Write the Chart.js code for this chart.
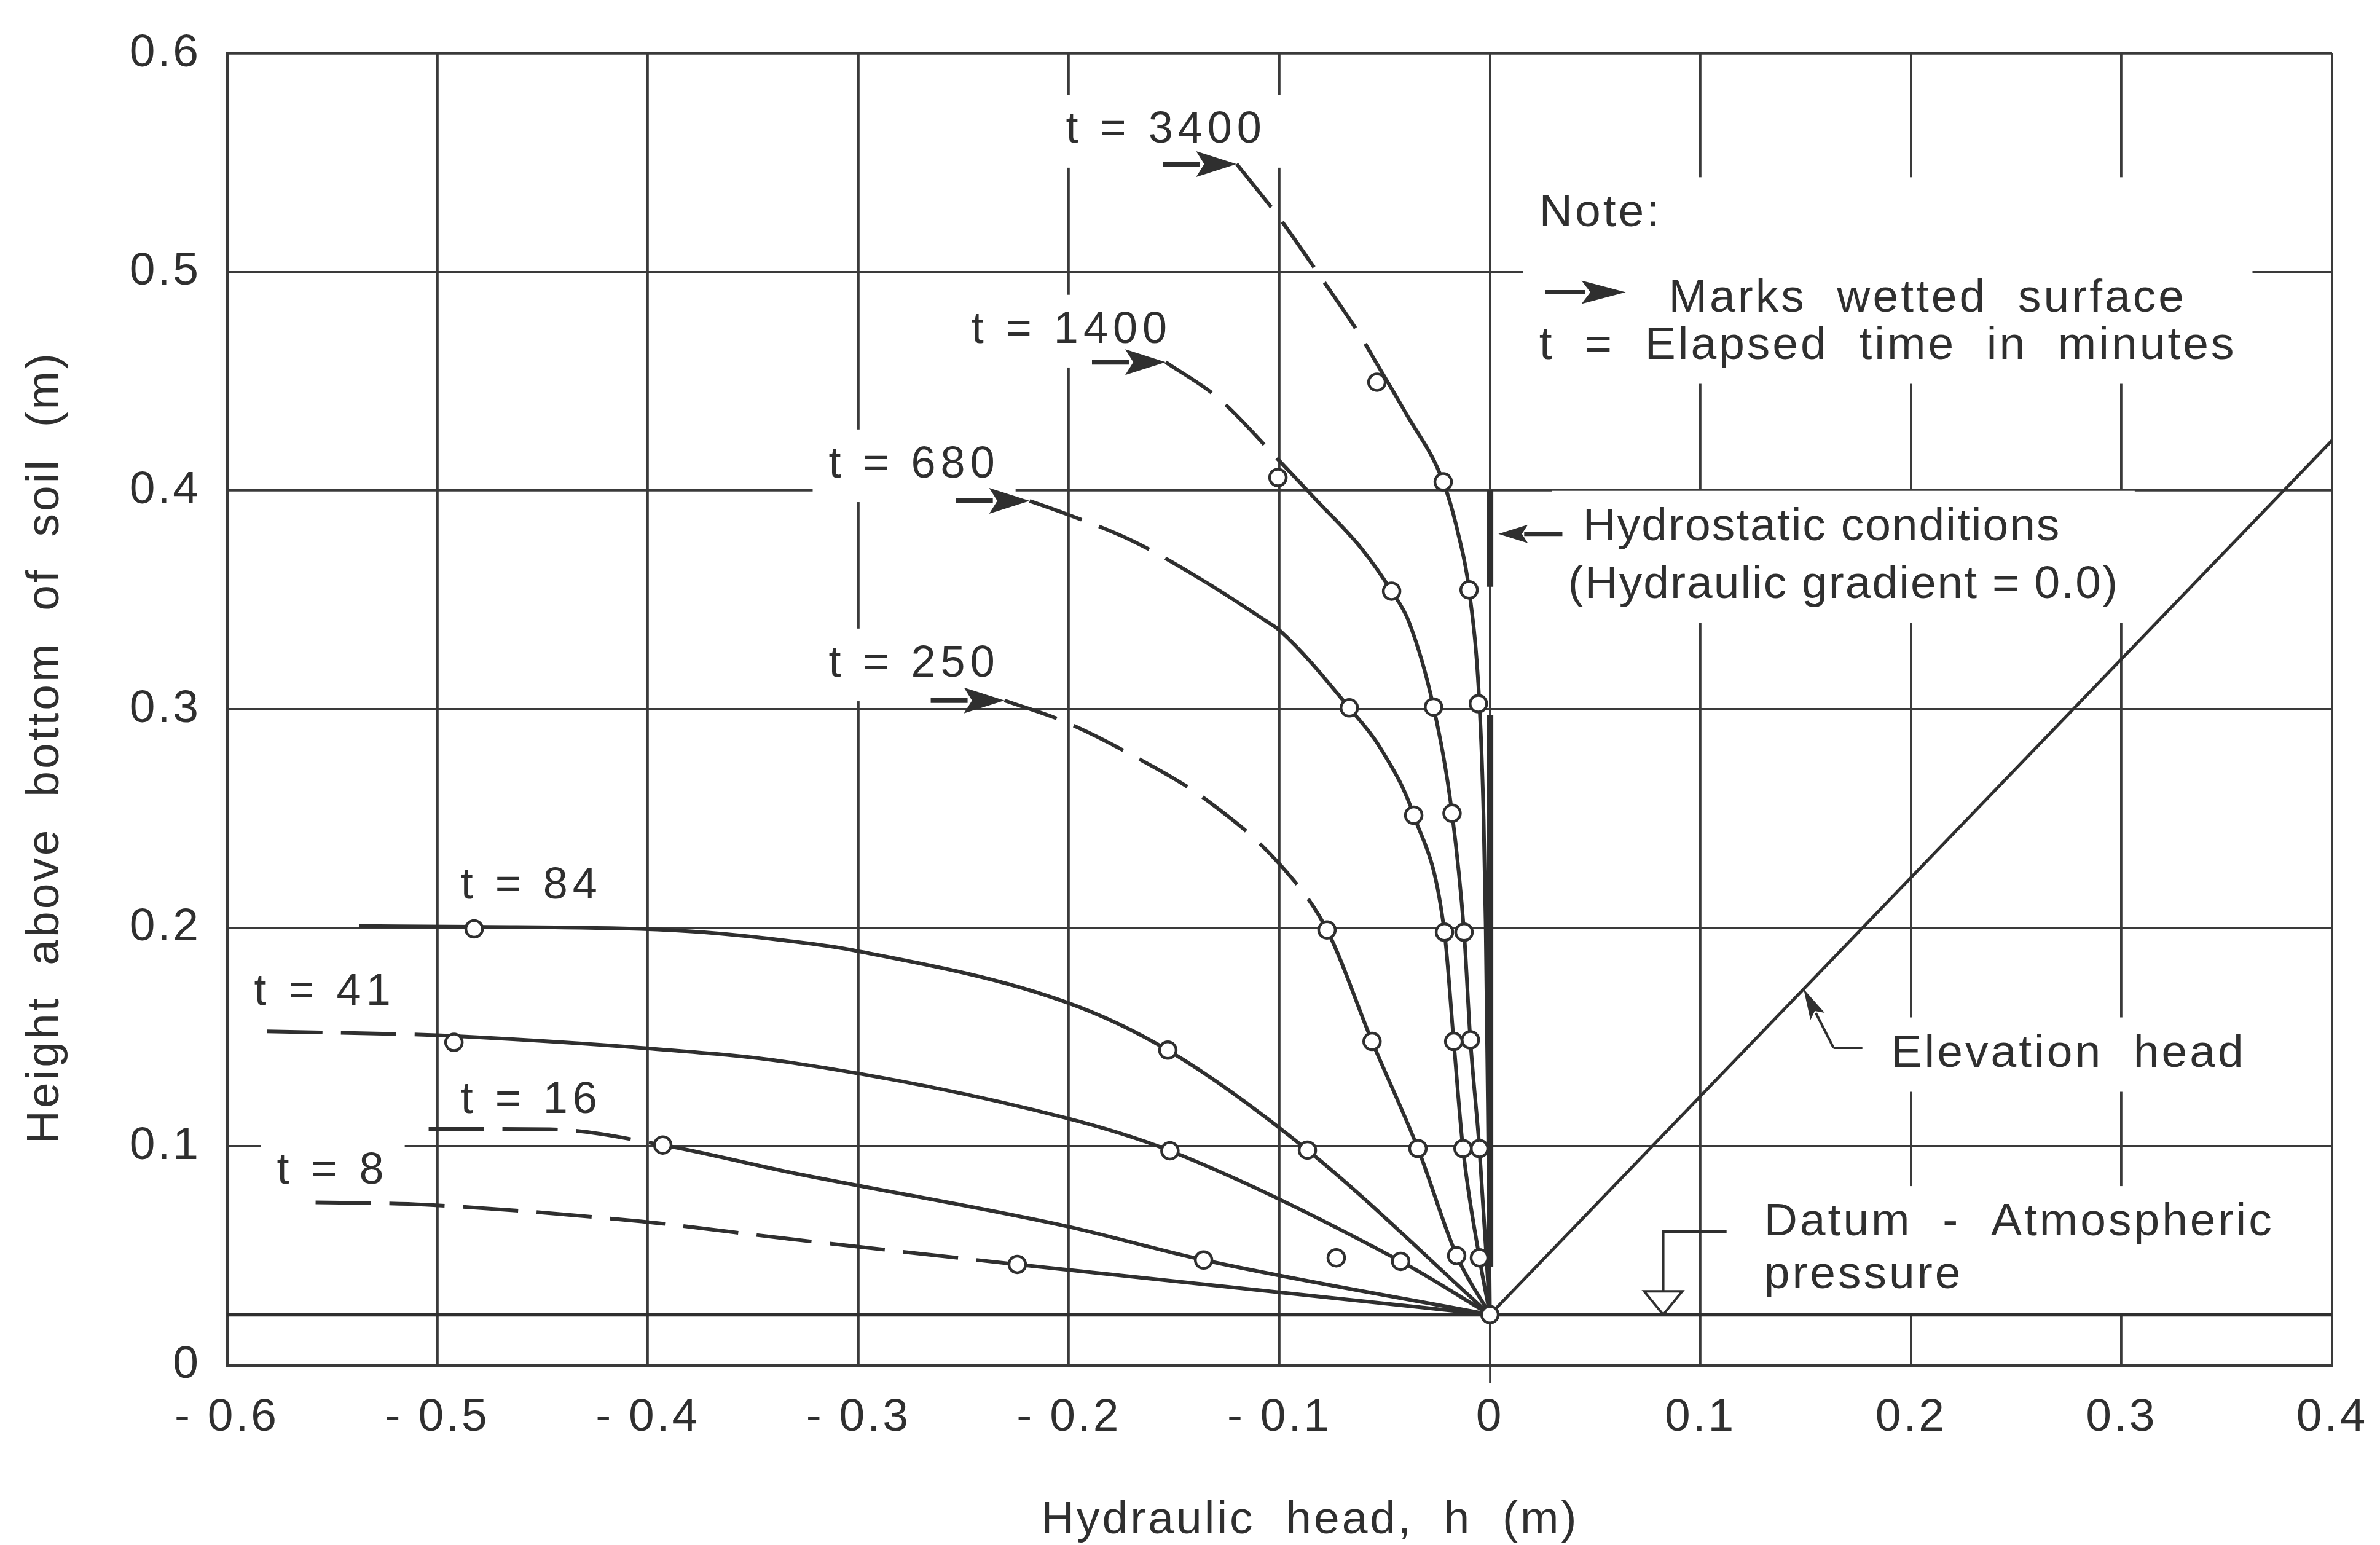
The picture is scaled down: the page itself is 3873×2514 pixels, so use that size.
<!DOCTYPE html>
<html>
<head>
<meta charset="utf-8">
<script src="https://cdn.jsdelivr.net/npm/chart.js@4.4.1/dist/chart.umd.min.js"></script>
<style>
html,body{margin:0;padding:0;background:#fff;overflow:hidden}
canvas{display:block}
</style>
</head>
<body>
<canvas id="c" width="3873" height="2514" style="width:3873px;height:2514px"></canvas>
<script>
// ---------------- data (hydraulic head h in m, height z in m) ----------------
const xTickLabels = ['- 0.6','- 0.5','- 0.4','- 0.3','- 0.2','- 0.1','0','0.1','0.2','0.3','0.4'];
const yTickLabels = ['0','0.1','0.2','0.3','0.4','0.5','0.6'];

const datumZ = 0.023;

// t = 3400 min
const h3400 = [-0.1203,-0.101,-0.0806,-0.061,-0.0537,-0.040,-0.0222,-0.0150,-0.0099,-0.0050,-0.003,-0.002,-0.001,0];
const z3400 = [0.5494,0.526,0.498,0.470,0.458,0.4355,0.404,0.380,0.3546,0.3025,0.25,0.2,0.12,0.023];
const dash3400 = 4;
// t = 1400 min
const h1400 = [-0.154,-0.129,-0.0998,-0.0823,-0.061,-0.0467,-0.0385,-0.0268,-0.018,-0.0123,-0.0093,-0.005,0];
const z1400 = [0.4588,0.4423,0.4134,0.3955,0.3735,0.354,0.340,0.301,0.2524,0.198,0.1487,0.099,0.023];
const dash1400 = 2;
// t = 680 min
const h680 = [-0.2186,-0.2023,-0.1696,-0.1351,-0.1066,-0.0998,-0.0668,-0.0511,-0.0362,-0.0216,-0.0172,-0.0128,-0.005,0];
const z680 = [0.3953,0.3897,0.3769,0.3582,0.3405,0.3360,0.3006,0.2808,0.2515,0.198,0.148,0.099,0.049,0.023];
const dash680 = 3;
// t = 250 min
const h250 = [-0.2306,-0.2023,-0.1696,-0.1351,-0.0998,-0.0774,-0.056,-0.0342,-0.0158,0];
const z250 = [0.304,0.2944,0.2788,0.2588,0.229,0.199,0.148,0.099,0.050,0.023];
const dash250 = 5;
// t = 84 min
const h84 = [-0.537,-0.4825,-0.4037,-0.374,-0.3333,-0.3024,-0.2014,-0.153,-0.0867,0];
const z84 = [0.2008,0.2005,0.1995,0.198,0.194,0.1897,0.166,0.144,0.0983,0.023];
const dash84 = -1;
// t = 41 min
const h41 = [-0.5808,-0.5047,-0.4921,-0.4037,-0.3333,-0.2014,-0.152,-0.0424,0];
const z41 = [0.1526,0.151,0.1505,0.1451,0.1385,0.113,0.098,0.0474,0.023];
const dash41 = 2;
// t = 16 min
const h16 = [-0.5041,-0.4466,-0.3929,-0.3333,-0.2014,-0.136,0];
const z16 = [0.108,0.1078,0.1006,0.0883,0.0635,0.048,0.023];
const dash16 = 2;
// t = 8 min
const h8 = [-0.5578,-0.5058,-0.4037,-0.3333,-0.2245,0];
const z8 = [0.0744,0.0733,0.0657,0.0577,0.046,0.023];
const dash8 = 4;

// measured points (open circles)
const markH = [-0.0537,-0.0222,-0.0099,-0.0055,
               -0.1007,-0.0467,-0.0268,-0.018,-0.0123,-0.0093,-0.005,
               -0.0668,-0.0362,-0.0216,-0.0172,-0.0128,-0.005,
               -0.0774,-0.056,-0.0342,-0.0158,
               -0.4825,-0.153,-0.0867,
               -0.4921,-0.152,-0.0424,
               -0.3929,-0.136,
               -0.2245,
               -0.073,
               0];
const markZ = [0.4496,0.404,0.3546,0.3025,
               0.406,0.354,0.301,0.2524,0.198,0.1487,0.099,
               0.3006,0.2515,0.198,0.148,0.099,0.049,
               0.199,0.148,0.099,0.050,
               0.1995,0.144,0.0983,
               0.1476,0.098,0.0474,
               0.1006,0.048,
               0.046,
               0.049,
               0.023];

// reference lines
const elevH = [0, 0.4];
const elevZ = [0.023, 0.423];
const datumLineH = [-0.6, 0.4];
const hydroH = [0, 0, 0, 0, 0];
const hydroZ = [0.4, 0.356, null, 0.2975, 0.045];

// labels for the time curves (anchor in data units: left edge, baseline)
const timeLabels = ['t = 3400','t = 1400','t = 680','t = 250','t = 84','t = 41','t = 16','t = 8'];
const timeLabelH = [-0.2014,-0.2463,-0.3141,-0.3141,-0.4889,-0.5870,-0.4889,-0.5762];
const timeLabelZ = [0.5591,0.4677,0.4061,0.3150,0.2134,0.1649,0.1153,0.0830];

const noteText = ['Note:','Marks  wetted  surface','t  =  Elapsed  time  in  minutes'];
const noteH = [0.0234,0.0849,0.0234];
const noteZ = [0.5209,0.4819,0.4604];
const hydroText = ['Hydrostatic conditions','(Hydraulic gradient = 0.0)'];
const hydroTextH = [0.0441,0.0371];
const hydroTextZ = [0.3774,0.351];
const elevText = ['Elevation  head'];
const elevTextH = [0.1906];
const elevTextZ = [0.1365];
const datumText = ['Datum  -  Atmospheric','pressure'];
const datumTextH = [0.1302,0.1302];
const datumTextZ = [0.0593,0.0351];

// ---------------- drawing ----------------
const FONT = '"Liberation Sans", Arial, Helvetica, sans-serif';
const INK = '#2f2f2f';
const GRID = '#3a3a3a';

const curves = [
  [h3400,z3400,dash3400],[h1400,z1400,dash1400],[h680,z680,dash680],[h250,z250,dash250],
  [h84,z84,dash84],[h41,z41,dash41],[h16,z16,dash16],[h8,z8,dash8]
];
const pts = (h, z) => h.map((v, i) => ({x: v, y: z[i]}));

const datasets = [];
curves.forEach(([h, z, d]) => {
  datasets.push({
    data: pts(h, z),
    borderColor: INK, borderWidth: 6, cubicInterpolationMode: 'monotone', pointRadius: 0, fill: false, order: 2,
    borderCapStyle: 'butt',
    segment: { borderDash: ctx => (ctx.p1DataIndex <= d ? [90, 30] : undefined) }
  });
});
datasets.push({ data: pts(elevH, elevZ), borderColor: INK, borderWidth: 5, pointRadius: 0, tension: 0, order: 3 });
datasets.push({ data: pts(datumLineH, [datumZ, datumZ]), borderColor: INK, borderWidth: 6, pointRadius: 0, tension: 0, order: 3 });
datasets.push({ data: pts(hydroH, hydroZ), borderColor: INK, borderWidth: 11, pointRadius: 0, tension: 0, order: 3, borderCapStyle: 'butt', spanGaps: false });
datasets.push({ data: pts(markH, markZ), showLine: false, pointRadius: 13.5, pointBorderWidth: 4.5,
  pointBackgroundColor: '#ffffff', pointBorderColor: INK, order: 0 });

function arrow(c, x0, y0, x1, y1, headLen, headHalf, w) {
  const a = Math.atan2(y1 - y0, x1 - x0);
  const bx = x1 - headLen * Math.cos(a), by = y1 - headLen * Math.sin(a);
  c.beginPath(); c.moveTo(x0, y0); c.lineTo(bx + 6 * Math.cos(a), by + 6 * Math.sin(a));
  c.lineWidth = w; c.strokeStyle = INK; c.lineCap = 'butt'; c.stroke();
  c.beginPath(); c.moveTo(x1, y1);
  c.lineTo(bx + headHalf * Math.sin(a), by - headHalf * Math.cos(a));
  c.lineTo(bx + 0.2 * headLen * Math.cos(a), by + 0.2 * headLen * Math.sin(a));
  c.lineTo(bx - headHalf * Math.sin(a), by + headHalf * Math.cos(a));
  c.closePath(); c.fillStyle = INK; c.fill();
}

function textGroups() {
  const g = timeLabels.map((t, i) => ({t: [t], h: [timeLabelH[i]], z: [timeLabelZ[i]], s: 72, ls: 8}));
  g.push({t: noteText, h: noteH, z: noteZ, s: 75, ls: 4});
  g.push({t: hydroText, h: hydroTextH, z: hydroTextZ, s: 75, ls: 2});
  g.push({t: elevText, h: elevTextH, z: elevTextZ, s: 75, ls: 4});
  g.push({t: datumText, h: datumTextH, z: datumTextZ, s: 75, ls: 4});
  return g;
}

const annot = {
  id: 'annot',
  beforeDraw(chart) {
    const c = chart.ctx;
    c.save(); c.fillStyle = '#ffffff'; c.fillRect(0, 0, chart.width, chart.height); c.restore();
    c.letterSpacing = '4px';
  },
  beforeDatasetsDraw(chart) {
    const c = chart.ctx, X = chart.scales.x, Y = chart.scales.y;
    c.save();
    c.fillStyle = '#ffffff';
    const pad = 26;
    textGroups().forEach(g => {
      c.font = g.s + 'px ' + FONT; c.letterSpacing = g.ls + 'px';
      let x0 = 1e9, x1 = -1e9, y0 = 1e9, y1 = -1e9;
      g.t.forEach((t, i) => {
        const x = X.getPixelForValue(g.h[i]), y = Y.getPixelForValue(g.z[i]);
        const w = c.measureText(t).width;
        x0 = Math.min(x0, x); x1 = Math.max(x1, x + w);
        y0 = Math.min(y0, y - 0.72 * g.s); y1 = Math.max(y1, y + 0.2 * g.s);
      });
      c.fillRect(x0 - pad, y0 - pad, x1 - x0 + 2 * pad, y1 - y0 + 2 * pad);
    });
    c.restore();
  },
  afterDatasetsDraw(chart) {
    const c = chart.ctx, X = chart.scales.x, Y = chart.scales.y;
    const px = v => X.getPixelForValue(v), py = v => Y.getPixelForValue(v);
    c.save();
    c.fillStyle = INK; c.textAlign = 'left'; c.textBaseline = 'alphabetic';
    textGroups().forEach(g => {
      c.font = g.s + 'px ' + FONT; c.letterSpacing = g.ls + 'px';
      g.t.forEach((t, i) => c.fillText(t, px(g.h[i]), py(g.z[i])));
    });
    // wetted-surface arrows at the start of the four upper curves
    [[h3400, z3400], [h1400, z1400], [h680, z680], [h250, z250]].forEach(([h, z]) => {
      const tx = px(h[0]), ty = py(z[0]);
      arrow(c, tx - 120, ty, tx, ty, 66, 21, 8);
    });
    // note arrow
    arrow(c, px(0.0263), py(0.4908), px(0.0645), py(0.4908), 72, 19, 7);
    // hydrostatic arrow
    arrow(c, px(0.0344), py(0.3802), px(0.004), py(0.3802), 48, 15, 7);
    // elevation head leader
    c.beginPath(); c.moveTo(px(0.1769), py(0.1451)); c.lineTo(px(0.1632), py(0.1451));
    c.lineWidth = 4; c.strokeStyle = INK; c.stroke();
    arrow(c, px(0.1632), py(0.1451), px(0.149), py(0.172), 50, 13, 4);
    // datum leader + water-table symbol
    c.beginPath(); c.moveTo(px(0.1124), py(0.061)); c.lineTo(px(0.0823), py(0.061)); c.lineTo(px(0.0823), py(0.0337));
    c.lineWidth = 4; c.strokeStyle = INK; c.stroke();
    const tx = px(0.0823), ttop = py(0.0337), tbot = py(datumZ);
    c.beginPath(); c.moveTo(tx - 31, ttop); c.lineTo(tx + 31, ttop); c.lineTo(tx, tbot); c.closePath();
    c.fillStyle = '#ffffff'; c.fill(); c.lineWidth = 4; c.stroke();
    c.restore();
  }
};

const tickFont = { family: FONT, size: 75 };
new Chart(document.getElementById('c').getContext('2d'), {
  type: 'line',
  data: { datasets },
  options: {
    responsive: false, animation: false, devicePixelRatio: 1,
    layout: { padding: { top: 66, right: 78, left: 0, bottom: 0 } },
    plugins: { legend: { display: false }, tooltip: { enabled: false } },
    elements: { point: { hitRadius: 0 } },
    scales: {
      x: {
        type: 'linear', min: -0.6, max: 0.4,
        afterFit: s => { s.height = 293; },
        ticks: { stepSize: 0.1, autoSkip: false, maxRotation: 0, padding: 11, color: INK, font: tickFont,
                 callback: v => xTickLabels[Math.round(v * 10) + 6] },
        grid: { color: GRID, lineWidth: 3.8, drawTicks: true, tickLength: 30, tickWidth: 3.5,
                tickColor: ctx => (ctx.tick && Math.abs(ctx.tick.value) < 1e-9 ? GRID : 'rgba(0,0,0,0)') },
        border: { display: true, color: GRID, width: 5 },
        title: { display: true, text: '    Hydraulic  head,  h  (m)', color: INK,
                 font: { family: FONT, size: 75, lineHeight: 1 }, padding: { top: 0, bottom: 2 } }
      },
      y: {
        type: 'linear', min: 0, max: 0.6,
        afterFit: s => { s.width = 369; },
        ticks: { stepSize: 0.1, padding: 42, color: INK, font: tickFont,
                 callback: v => yTickLabels[Math.round(v * 10)] },
        grid: { color: GRID, lineWidth: 3.8, drawTicks: false },
        border: { display: true, color: GRID, width: 5 },
        title: { display: true, text: 'Height  above  bottom  of  soil  (m)     ', color: INK,
                 font: { family: FONT, size: 75, lineHeight: 1 }, padding: { top: 37, bottom: 0 } }
      }
    }
  },
  plugins: [annot]
});
</script>
</body>
</html>
